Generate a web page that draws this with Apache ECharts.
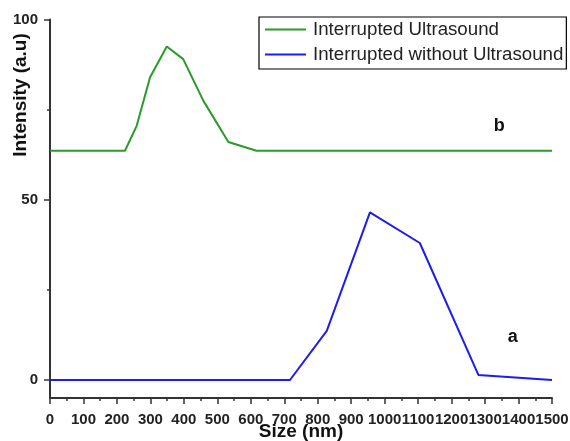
<!DOCTYPE html>
<html>
<head>
<meta charset="utf-8">
<script src="https://cdn.jsdelivr.net/npm/echarts@6/dist/echarts.min.js"></script>
<style>
html, body { margin: 0; padding: 0; background: #fff; }
#chart { width: 570px; height: 441px; }
</style>
</head>
<body>
<div id="chart"></div>
<script>
// values
var greenName = 'Interrupted Ultrasound';
var greenSize = [0, 224, 259, 299, 349, 398, 458, 533, 617, 1500];
var greenInt  = [63.6, 63.6, 70.5, 84, 92.5, 89, 77.5, 66, 63.6, 63.6];

var blueName = 'Interrupted without Ultrasound';
var blueSize = [0, 717, 827, 956, 1105, 1280, 1500];
var blueInt  = [0, 0, 13.6, 46.5, 38, 1.4, 0];

var yMajor = [0, 50, 100];
var yMinor = [25, 75];

function pairs(xs, ys) {
	var out = [];
	for (var i = 0; i < xs.length; i++) out.push([xs[i], ys[i]]);
	return out;
}

var font = 'Liberation Sans, Arial, Helvetica, sans-serif';
var axisCol = '#333';

var myChart = echarts.init(document.getElementById('chart'));

var option = {
	animation: false,
	textStyle: { fontFamily: font },
	grid: { left: 50, right: 18, top: 19.5, bottom: 43, containLabel: false, outerBoundsMode: 'none' },
	legend: {
		orient: 'vertical',
		left: 259,
		top: 17,
		padding: [3, 3, 5, 5],
		itemGap: 6,
		itemWidth: 41,
		itemHeight: 18,
		borderColor: '#000',
		borderWidth: 1.2,
		itemStyle: { opacity: 0 },
		textStyle: { fontSize: 18.7, color: '#222', fontFamily: font, padding: [0, 0, 0, 2] },
		data: [greenName, blueName]
	},
	xAxis: {
		type: 'value',
		min: 0,
		max: 1500,
		interval: 100,
		splitLine: { show: false },
		axisLine: { onZero: false, lineStyle: { color: axisCol, width: 2 } },
		axisTick: { length: 6, lineStyle: { color: axisCol, width: 1.5 } },
		minorTick: { show: true, splitNumber: 2, length: 3, lineStyle: { color: axisCol, width: 1.5 } },
		axisLabel: {
			margin: 14, fontSize: 15, fontWeight: 'bold', color: '#222',
			showMinLabel: true, showMaxLabel: true, hideOverlap: false,
			formatter: function (v) { return String(v); }
		},
		name: 'Size (nm)',
		nameLocation: 'middle',
		nameGap: 24,
		nameMoveOverlap: false,
		nameTextStyle: { fontSize: 19, fontWeight: 'bold', color: '#111' }
	},
	yAxis: [{
		type: 'value',
		min: -5,
		max: 100,
		position: 'left',
		splitLine: { show: false },
		axisLine: { show: true, onZero: false, lineStyle: { color: axisCol, width: 2 } },
		axisTick: { show: true, length: 6, customValues: yMajor, lineStyle: { color: axisCol, width: 1.5 } },
		axisLabel: { margin: 12, fontSize: 15, fontWeight: 'bold', color: '#222', customValues: yMajor }
	}, {
		type: 'value',
		min: -5,
		max: 100,
		position: 'left',
		offset: 0,
		splitLine: { show: false },
		axisLine: { show: false, onZero: false },
		axisTick: { show: true, length: 3, customValues: yMinor, lineStyle: { color: axisCol, width: 1.5 } },
		axisLabel: { show: false }
	}],
	graphic: [{
		type: 'text',
		x: 21,
		y: 95,
		rotation: Math.PI / 2,
		style: {
			text: 'Intensity (a.u)',
			font: 'bold 19px ' + font,
			fill: '#111',
			textAlign: 'center',
			textVerticalAlign: 'middle'
		}
	}],
	series: [{
		name: greenName,
		type: 'line',
		symbol: 'none',
		color: '#2a9a2a',
		lineStyle: { width: 2, color: '#2a9a2a' },
		data: pairs(greenSize, greenInt),
		markPoint: {
			symbol: 'circle',
			symbolSize: 0,
			label: { show: true, position: 'inside', formatter: '{b}', fontSize: 18, fontWeight: 'bold', color: '#111' },
			data: [{ name: 'b', coord: [1342, 70.5] }]
		}
	}, {
		name: blueName,
		type: 'line',
		symbol: 'none',
		color: '#1c1cf2',
		lineStyle: { width: 2, color: '#1c1cf2' },
		data: pairs(blueSize, blueInt),
		markPoint: {
			symbol: 'circle',
			symbolSize: 0,
			label: { show: true, position: 'inside', formatter: '{b}', fontSize: 18, fontWeight: 'bold', color: '#111' },
			data: [{ name: 'a', coord: [1383, 11.9] }]
		}
	}]
};

myChart.setOption(option);
</script>
</body>
</html>
